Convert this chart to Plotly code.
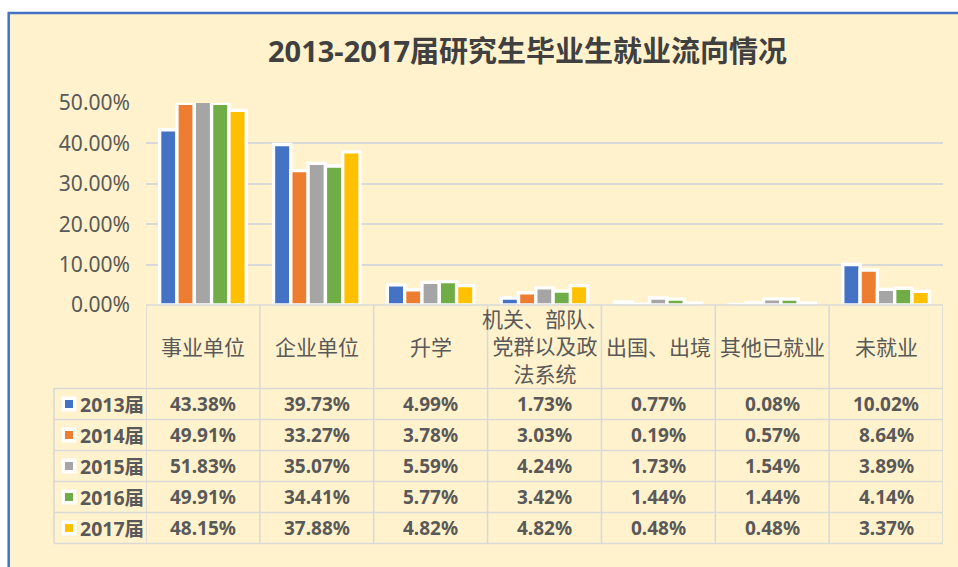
import plotly.graph_objects as go

# ---------------- data ----------------
categories = ["事业单位", "企业单位", "升学", "机关、部队、党群以及政法系统", "出国、出境", "其他已就业", "未就业"]
category_labels = ["事业单位", "企业单位", "升学", "机关、部队、<br>党群以及政<br>法系统", "出国、出境", "其他已就业", "未就业"]
series_names = ["2013届", "2014届", "2015届", "2016届", "2017届"]
v2013 = [43.38, 39.73, 4.99, 1.73, 0.77, 0.08, 10.02]
v2014 = [49.91, 33.27, 3.78, 3.03, 0.19, 0.57, 8.64]
v2015 = [51.83, 35.07, 5.59, 4.24, 1.73, 1.54, 3.89]
v2016 = [49.91, 34.41, 5.77, 3.42, 1.44, 1.44, 4.14]
v2017 = [48.15, 37.88, 4.82, 4.82, 0.48, 0.48, 3.37]
series_values = [v2013, v2014, v2015, v2016, v2017]
colors = ["#4472C4", "#ED7D31", "#A5A5A5", "#70AD47", "#FFC000"]
title_text = "2013-2017届研究生毕业生就业流向情况"

# ---------------- layout helpers (pixel -> paper) ----------------
W, H = 958, 567
L, R, T, B = 146, 943, 103, 305


def px(x):
    return (x - L) / (R - L)


def py(y):
    return (B - y) / (B - T)


FONT = "Noto Sans, Noto Sans CJK SC, sans-serif"
TXT = "#595959"
GRID = "#D9D9D9"
BEIGE = "#FFF2CC"

fig = go.Figure()
for name, vals, col in zip(series_names, series_values, colors):
    fig.add_trace(go.Bar(
        x=categories, y=vals, name=name,
        marker=dict(color=col, line=dict(color="white", width=3.3)),
        hoverinfo="x+y+name",
    ))

shapes = []
annotations = []

# background panel with blue border
shapes.append(dict(type="rect", xref="paper", yref="paper", layer="below",
                   x0=px(8.7), x1=px(990), y0=py(13), y1=py(620),
                   fillcolor=BEIGE, line=dict(color="#4472C4", width=2.5)))

# table geometry
row_edges = [388.5, 419.5, 450.5, 481.5, 512.5, 543.5]
table_left = 54

# horizontal table lines
shapes.append(dict(type="line", xref="paper", yref="paper", x0=0, x1=1,
                   y0=py(B), y1=py(B), line=dict(color=GRID, width=1.6)))
for ye in row_edges:
    shapes.append(dict(type="line", xref="paper", yref="paper", x0=px(table_left), x1=1,
                       y0=py(ye), y1=py(ye), line=dict(color=GRID, width=1.6)))
# vertical table lines (category boundaries)
for i in range(len(categories) + 1):
    shapes.append(dict(type="line", xref="x", yref="paper", x0=i - 0.5, x1=i - 0.5,
                       y0=py(B), y1=py(row_edges[-1]), line=dict(color=GRID, width=1.6)))
# left edge of the series column
shapes.append(dict(type="line", xref="paper", yref="paper", x0=px(table_left), x1=px(table_left),
                   y0=py(row_edges[0]), y1=py(row_edges[-1]), line=dict(color=GRID, width=1.6)))

# header labels
header_y = (B + row_edges[0]) / 2
for cat, lab in zip(categories, category_labels):
    annotations.append(dict(xref="x", yref="paper", x=cat, y=py(header_y), text=lab,
                            showarrow=False, xanchor="center", yanchor="middle",
                            font=dict(family=FONT, size=21, color=TXT)))

# data rows
for r, (name, vals, col) in enumerate(zip(series_names, series_values, colors)):
    yc = (row_edges[r] + row_edges[r + 1]) / 2
    # legend key: white square with coloured square inside
    shapes.append(dict(type="rect", xref="paper", yref="paper",
                       x0=px(61.5), x1=px(76.5), y0=py(yc - 7.5), y1=py(yc + 7.5),
                       fillcolor="white", line=dict(width=0)))
    shapes.append(dict(type="rect", xref="paper", yref="paper",
                       x0=px(65), x1=px(73), y0=py(yc - 4), y1=py(yc + 4),
                       fillcolor=col, line=dict(width=0)))
    annotations.append(dict(xref="paper", yref="paper", x=px(78), y=py(yc), text=name,
                            showarrow=False, xanchor="left", yanchor="middle",
                            font=dict(family=FONT, size=19.5, color=TXT, weight="bold")))
    for cat, v in zip(categories, vals):
        annotations.append(dict(xref="x", yref="paper", x=cat, y=py(yc), text=f"{v:.2f}%",
                                showarrow=False, xanchor="center", yanchor="middle",
                                font=dict(family=FONT, size=19, color=TXT, weight="bold")))

# title
annotations.append(dict(xref="paper", yref="paper", x=px(527), y=py(50), text=title_text,
                        showarrow=False, xanchor="center", yanchor="middle",
                        font=dict(family=FONT, size=29, color="#404040", weight="bold")))

fig.update_layout(
    width=W, height=H,
    margin=dict(l=L, r=W - R, t=T, b=H - B, pad=0),
    paper_bgcolor="white",
    plot_bgcolor="rgba(0,0,0,0)",
    showlegend=False,
    barmode="group",
    bargap=0.24,
    bargroupgap=0,
    shapes=shapes,
    annotations=annotations,
    font=dict(family=FONT, color=TXT),
)
fig.update_xaxes(showticklabels=False, showgrid=False, zeroline=False, showline=False,
                 range=[-0.5, len(categories) - 0.5])
fig.update_yaxes(range=[0, 50], dtick=10, tickformat=".2f", ticksuffix="%",
                 showgrid=True, gridcolor=GRID, gridwidth=1.6, zeroline=False, showline=False,
                 ticklabelstandoff=15,
                 tickfont=dict(family=FONT, size=21, color=TXT))

fig.write_html("out.html", config={"displayModeBar": False},
               post_script="document.body.style.margin='0';document.body.style.padding='0';")
